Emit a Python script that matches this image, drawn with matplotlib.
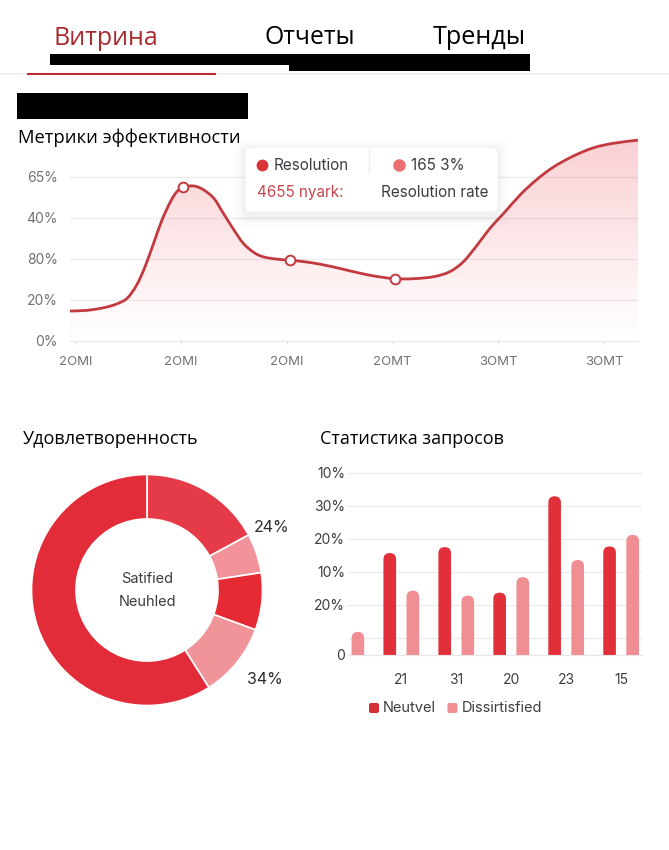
import numpy as np
import matplotlib
matplotlib.use('Agg')
import matplotlib.pyplot as plt
from matplotlib.patches import FancyBboxPatch, Rectangle, PathPatch
from matplotlib.path import Path

W, H = 669, 850

# верхний график
line_t = [-0.05, 0.11, 0.27, 0.39, 0.49, 0.58, 0.66, 0.74, 0.82, 0.90, 0.96, 1.02, 1.12, 1.21,
          1.31, 1.40, 1.50, 1.59, 1.69, 1.78, 1.91, 2.03, 2.19, 2.35, 2.50, 2.69, 2.85, 3.02,
          3.20, 3.39, 3.54, 3.67, 3.80, 3.92, 4.05, 4.21, 4.36, 4.52, 4.71, 4.90, 5.09, 5.32]
line_v = [14.6, 14.9, 16.2, 18.0, 20.8, 27.2, 36.2, 47.5, 58.9, 67.8, 72.6, 74.8, 75.4, 73.6,
          69.4, 62.1, 54.0, 47.4, 43.0, 40.9, 39.8, 39.3, 38.4, 37.0, 35.3, 33.0, 31.4, 30.3,
          30.3, 31.3, 33.7, 38.6, 46.7, 54.8, 62.1, 71.3, 78.4, 84.6, 90.0, 94.0, 96.2, 97.7]
marker_idx = [11, 21, 27]
line_yticks = [0, 20, 40, 60, 80]
line_ylabels = ['0%', '20%', '80%', '40%', '65%']
line_xlabels = ['2OMI', '2OMI', '2OMI', '2OMT', '3OMT', '3OMT']

# кольцо
donut_vals = [17.1, 5.5, 8.0, 10.4, 59.0]
donut_cols = ['#E53A48', '#F2939B', '#E52A33', '#F19499', '#E32C3A']

# столбцы
bar_labels = ['', '21', '31', '20', '23', '15']
neutral = [0, 30.9, 32.7, 18.9, 48.1, 32.9]
dissatisfied = [7.0, 19.5, 18.0, 23.6, 28.8, 36.4]
bar_yticks = [0, 5.3, 15.3, 25.3, 35.3, 45.3, 55.3]
bar_ylabels = ['0', '', '20%', '10%', '20%', '30%', '10%']

GREY = '#6F7275'
DARK = '#3A3D42'
RED = '#C23A40'
SANS = ['Inter', 'DejaVu Sans']
HEAD = ['Open Sans', 'DejaVu Sans']


def axes_px(fig, x0, y0, x1, y1):
    return fig.add_axes([x0 / W, 1 - y1 / H, (x1 - x0) / W, (y1 - y0) / H])


def smooth_path(xs, ys):
    # кривая через все точки, Catmull-Rom в Bezier
    pts = np.column_stack([xs, ys])
    verts = [pts[0]]
    codes = [Path.MOVETO]
    for i in range(len(pts) - 1):
        p0 = pts[max(i - 1, 0)]
        p1 = pts[i]
        p2 = pts[i + 1]
        p3 = pts[min(i + 2, len(pts) - 1)]
        verts += [p1 + (p2 - p0) / 6, p2 - (p3 - p1) / 6, p2]
        codes += [Path.CURVE4] * 3
    return verts, codes


fig = plt.figure(figsize=(W / 100, H / 100), dpi=100, facecolor='white')

# line chart
ax = axes_px(fig, 70, 135, 638, 341)
ax.set_xlim(-0.05, 5.32)
ax.set_ylim(0, 100.2)
for s in ax.spines.values():
    s.set_visible(False)
ax.spines['bottom'].set_visible(True)
ax.spines['bottom'].set_color('#E8E8EA')
ax.set_yticks(line_yticks)
ax.set_yticklabels(line_ylabels, family=SANS, fontsize=10, color=GREY)
ax.set_xticks(range(6))
ax.set_xticklabels(line_xlabels, family=SANS, fontsize=9.5, color=GREY)
ax.tick_params(axis='y', length=0, pad=9)
ax.tick_params(axis='x', length=2, color='#DDDDDD', pad=9)
ax.grid(axis='y', color='#ECECEE', lw=1)
ax.set_axisbelow(True)

grad = np.zeros((200, 2, 4))
grad[..., 0] = 0.91
grad[..., 1] = 0.25
grad[..., 2] = 0.30
grad[..., 3] = np.linspace(0.25, 0.0, 200)[:, None]
im = ax.imshow(grad, extent=[-0.05, 5.32, 0, 100.2], aspect='auto', zorder=1)
verts, codes = smooth_path(line_t, line_v)
clip = PathPatch(Path(verts + [(5.32, 0), (-0.05, 0), (-0.05, 0)],
                      codes + [Path.LINETO, Path.LINETO, Path.CLOSEPOLY]),
                 transform=ax.transData, fc='none', ec='none')
ax.add_patch(clip)
im.set_clip_path(clip)
ax.add_patch(PathPatch(Path(verts, codes), fc='none', ec=RED, lw=2, zorder=3))
ax.plot([line_t[i] for i in marker_idx], [line_v[i] for i in marker_idx], 'o', ms=7,
        mfc='white', mec=RED, mew=1.4, zorder=4)
ax.set_xlim(-0.05, 5.32)
ax.set_ylim(0, 100.2)

# donut
ax2 = axes_px(fig, 27, 470, 267, 710)
ax2.pie(donut_vals, colors=donut_cols, startangle=90, counterclock=False, radius=115.5 / 120,
        wedgeprops=dict(width=0.385 * 115.5 / 120, edgecolor='white', linewidth=1.2))
ax2.set_xlim(-1, 1)
ax2.set_ylim(-1, 1)

# bars
ax3 = axes_px(fig, 348, 460, 642, 655)
xlim3 = (0.03, 5.38)
ylim3 = (0, 59.1)
ax3.set_xlim(*xlim3)
ax3.set_ylim(*ylim3)
for s in ax3.spines.values():
    s.set_visible(False)
ax3.spines['bottom'].set_visible(True)
ax3.spines['bottom'].set_color('#E8E8EA')
ax3.set_yticks(bar_yticks)
ax3.set_yticklabels(bar_ylabels, family=SANS, fontsize=10, color=DARK)
ax3.set_xticks(range(1, 6))
ax3.set_xticklabels(bar_labels[1:], family=SANS, fontsize=10, color=DARK)
ax3.tick_params(axis='both', length=0)
ax3.tick_params(axis='y', pad=2)
ax3.tick_params(axis='x', pad=13)
ax3.grid(axis='y', color='#ECECEE', lw=1)
ax3.set_axisbelow(True)

bw = 0.23
aspect = ((ylim3[1] - ylim3[0]) / 195) / ((xlim3[1] - xlim3[0]) / 294)
for i in range(len(bar_labels)):
    for val, off, col in ((neutral[i], -0.21, '#E1303A'), (dissatisfied[i], 0.21, '#EF8F93')):
        if val == 0:
            continue
        ax3.add_patch(FancyBboxPatch((i + off - bw / 2, -5), bw, val + 5,
                                     boxstyle='round,pad=0,rounding_size=%f' % (bw / 2),
                                     mutation_aspect=aspect, fc=col, ec='none', zorder=2))

# overlay in pixels
top = fig.add_axes([0, 0, 1, 1], zorder=10)
top.set_xlim(0, W)
top.set_ylim(H, 0)
top.axis('off')
top.patch.set_alpha(0)

top.plot([0, W], [74, 74], color='#EEEEEE', lw=1.2)
top.plot([28, 215], [73.5, 73.5], color='#B8282E', lw=1.5)
top.text(54, 38, 'Витрина', family=HEAD, fontsize=18, color='#A92A30', va='center')
top.text(264, 37, 'Отчеты', family=HEAD, fontsize=17.8, color='black', va='center')
top.text(433, 37, 'Тренды', family=HEAD, fontsize=18.2, color='black', va='center')
top.add_patch(Rectangle((50, 54), 480, 11, fc='black', ec='none'))
top.add_patch(Rectangle((289, 54), 241, 17, fc='black', ec='none'))
top.add_patch(Rectangle((17, 93), 231, 26, fc='black', ec='none'))
top.text(18, 138, 'Метрики эффективности', family=HEAD, fontsize=13.2, color='black', va='center')
top.text(23, 439, 'Удовлетворенность', family=HEAD, fontsize=13, color='black', va='center')
top.text(320, 439, 'Статистика запросов', family=HEAD, fontsize=13, color='black', va='center')

# tooltip
for grow, a in ((10, 0.02), (7, 0.025), (4, 0.03), (2, 0.035)):
    top.add_patch(FancyBboxPatch((245 - grow, 147 - grow + 4), 253 + 2 * grow, 65 + 2 * grow,
                                 boxstyle='round,pad=0,rounding_size=8', fc='#888888', ec='none', alpha=a))
top.add_patch(FancyBboxPatch((245, 147), 253, 65, boxstyle='round,pad=0,rounding_size=5',
                             fc='white', ec='#F0F0F0', lw=0.8))
top.plot([369, 369], [147, 172], color='#EDEDED', lw=1)
top.plot([262], [165], 'o', ms=7.5, color='#D9323A')
top.plot([399], [165], 'o', ms=8, color='#EC6E70')
top.text(274, 165.5, 'Resolution', family=SANS, fontsize=11, color=DARK, va='center')
top.text(411, 165.5, '165 3%', family=SANS, fontsize=11, color=DARK, va='center')
top.text(257, 192.5, '4655 nyark:', family=SANS, fontsize=11, color='#C8474F', va='center')
top.text(381, 192.5, 'Resolution rate', family=SANS, fontsize=11, color=DARK, va='center')

# donut labels
top.text(147, 579, 'Satified', family=SANS, fontsize=10.5, color=DARK, ha='center', va='center')
top.text(148, 602, 'Neuhled', family=SANS, fontsize=10.5, color=DARK, ha='center', va='center')
top.text(272, 527, '24%', family=SANS, fontsize=11.5, color='#2B2D30', ha='center', va='center')
top.text(265, 680, '34%', family=SANS, fontsize=11.5, color='#2B2D30', ha='center', va='center')

# bar legend
top.add_patch(FancyBboxPatch((369, 703), 10, 10, boxstyle='round,pad=0,rounding_size=2',
                             fc='#D62F38', ec='none'))
top.add_patch(FancyBboxPatch((447.5, 703), 10, 10, boxstyle='round,pad=0,rounding_size=2',
                             fc='#EF8F93', ec='none'))
top.text(383, 708.5, 'Neutvel', family=SANS, fontsize=10.5, color=DARK, va='center')
top.text(462, 708.5, 'Dissirtisfied', family=SANS, fontsize=10.5, color=DARK, va='center')

fig.savefig('out.png', dpi=100)
